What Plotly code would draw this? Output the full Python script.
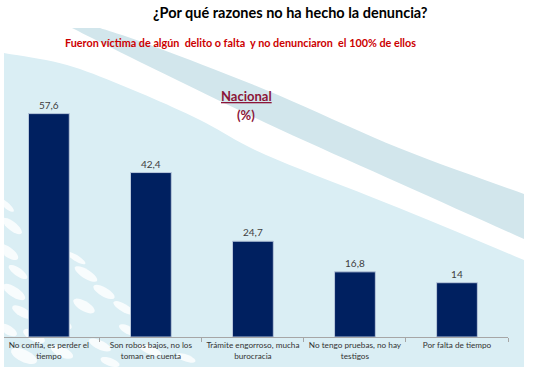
import plotly.graph_objects as go
import numpy as np

# ---------------- data ----------------
categories = [
    "No confía, es perder el<br>tiempo",
    "Son robos bajos, no los<br>toman en cuenta",
    "Trámite engorroso, mucha<br>burocracia",
    "No tengo pruebas, no hay<br>testigos",
    "Por falta de tiempo",
]
values = [57.6, 42.4, 24.7, 16.8, 14]
value_labels = [f"{v:g}".replace(".", ",") for v in values]

title_text = "¿Por qué razones no ha hecho la denuncia?"
subtitle_text = "Fueron víctima de algún&nbsp; delito o falta&nbsp; y no denunciaron&nbsp; el 100% de ellos"

# ---------------- layout helpers ----------------
W, H = 536, 386
ML, MR, MT, MB = 4, 28, 30, 49
PW, PH = W - ML - MR, H - MT - MB


def px(x):
    return (x - ML) / PW


def py(y):
    return (H - MB - y) / PH


def smooth(pts, n=10):
    pts = np.array(pts, dtype=float)
    p = np.vstack([pts[0], pts, pts[-1]])
    out = []
    for i in range(1, len(p) - 2):
        p0, p1, p2, p3 = p[i - 1], p[i], p[i + 1], p[i + 2]
        for t in np.linspace(0, 1, n, endpoint=False):
            t2, t3 = t * t, t * t * t
            out.append(0.5 * ((2 * p1) + (-p0 + p2) * t + (2 * p0 - 5 * p1 + 4 * p2 - p3) * t2
                              + (-p0 + 3 * p1 - 3 * p2 + p3) * t3))
    out.append(pts[-1])
    return out


def path_from(points):
    s = "M " + " L ".join(f"{px(x):.5f},{py(y):.5f}" for x, y in points) + " Z"
    return s


def ellipse(cx, cy, a, b, ang):
    th = np.linspace(0, 2 * np.pi, 28)
    r = np.deg2rad(ang)
    pts = []
    for t in th:
        x = cx + a * np.cos(t) * np.cos(r) - b * np.sin(t) * np.sin(r)
        y = cy + a * np.cos(t) * np.sin(r) + b * np.sin(t) * np.cos(r)
        pts.append((min(max(x, 4), 524), min(max(y, 28), 367)))
    return path_from(pts)


LIGHT = "#daeef4"
BAND = "#d2e6ec"

c1 = smooth([(4, 53), (67, 65), (133, 90), (200, 120), (266, 155), (399, 208), (524, 260)])
light_poly = [(4, 53)] + [tuple(p) for p in c1] + [(524, 367), (4, 367)]

c3 = smooth([(72, 28), (130, 57), (266, 123), (399, 183), (524, 239)])
c2 = smooth([(100, 28), (150, 45), (266, 90), (399, 148), (524, 194)])
band_poly = [tuple(p) for p in c3] + [tuple(p) for p in c2[::-1]]

shapes = [
    dict(type="path", xref="paper", yref="paper", path=path_from(light_poly),
         fillcolor=LIGHT, line=dict(width=0), layer="below"),
    dict(type="path", xref="paper", yref="paper", path=path_from(band_poly),
         fillcolor=BAND, line=dict(width=0), layer="below"),
]

bubbles = [
    (6, 205, 10, 3, 40), (12, 226, 12, 4.5, 38), (8, 252, 12, 5, 35), (18, 272, 11, 4, 35),
    (14, 292, 13, 5, 33), (22, 312, 11, 4.5, 30), (8, 330, 10, 4.5, 30),
    (76, 258, 11, 3, 32), (86, 274, 13, 4.5, 32), (104, 292, 12, 4.5, 30), (124, 308, 12, 4, 30),
    (84, 306, 12, 5, 30), (60, 322, 13, 5, 28), (34, 336, 12, 5, 28), (24, 356, 14, 6, 25),
    (62, 352, 12, 5, 25), (100, 345, 12, 4.5, 25), (128, 330, 10, 4, 28), (150, 350, 12, 4, 22),
    (110, 362, 10, 4, 20), (186, 358, 10, 3.5, 20),
]
for cx, cy, a, b, ang in bubbles:
    shapes.append(dict(type="path", xref="paper", yref="paper", path=ellipse(cx, cy, a, b, ang),
                       fillcolor="rgba(255,255,255,0.8)", line=dict(width=0), layer="below"))

fig = go.Figure()
fig.add_trace(go.Bar(
    x=categories, y=values, width=0.4,
    marker=dict(color="#002060", line=dict(color="#b8c8dc", width=1)),
    text=value_labels, textposition="outside", cliponaxis=False,
    textfont=dict(family="Lato", size=10, color="#404040"),
    hoverinfo="skip",
))

annotations = [
    dict(text=f"<b>{title_text}</b>", x=px(290), y=py(13), xref="paper", yref="paper",
         showarrow=False, xanchor="center", yanchor="middle",
         font=dict(family="Lato", size=14.5, color="#000000")),
    dict(text=f"<b>{subtitle_text}</b>", x=px(240), y=py(42), xref="paper", yref="paper",
         showarrow=False, xanchor="center", yanchor="middle",
         font=dict(family="Lato", size=10.8, color="#cc0000")),
    dict(text="<b><u>Nacional</u></b>", x=px(246), y=py(96), xref="paper", yref="paper",
         showarrow=False, xanchor="center", yanchor="middle",
         font=dict(family="Lato", size=13, color="#8b1538")),
    dict(text="<b>(%)</b>", x=px(246), y=py(115), xref="paper", yref="paper",
         showarrow=False, xanchor="center", yanchor="middle",
         font=dict(family="Lato", size=13, color="#8b1538")),
]

fig.update_layout(
    width=W, height=H,
    margin=dict(l=ML, r=MR, t=MT, b=MB, pad=0, autoexpand=False),
    paper_bgcolor="white", plot_bgcolor="rgba(0,0,0,0)",
    showlegend=False,
    shapes=shapes, annotations=annotations,
    separators=",.",
    xaxis=dict(type="category", range=[-0.44, 4.5], showline=True, linecolor="#a6a6a6", linewidth=1,
               ticks="outside", ticklen=4, tickcolor="#a6a6a6", tickson="boundaries",
               tickangle=0, automargin=False,
               showgrid=False, zeroline=False, fixedrange=True,
               tickfont=dict(family="Lato", size=8.2, color="#333333")),
    yaxis=dict(visible=False, range=[0, PH / (223.4 / 57.6)], fixedrange=True, automargin=False),
)

fig.write_html("out.html", config={"displayModeBar": False},
               post_script="document.body.style.margin='0';document.body.style.padding='0';")
